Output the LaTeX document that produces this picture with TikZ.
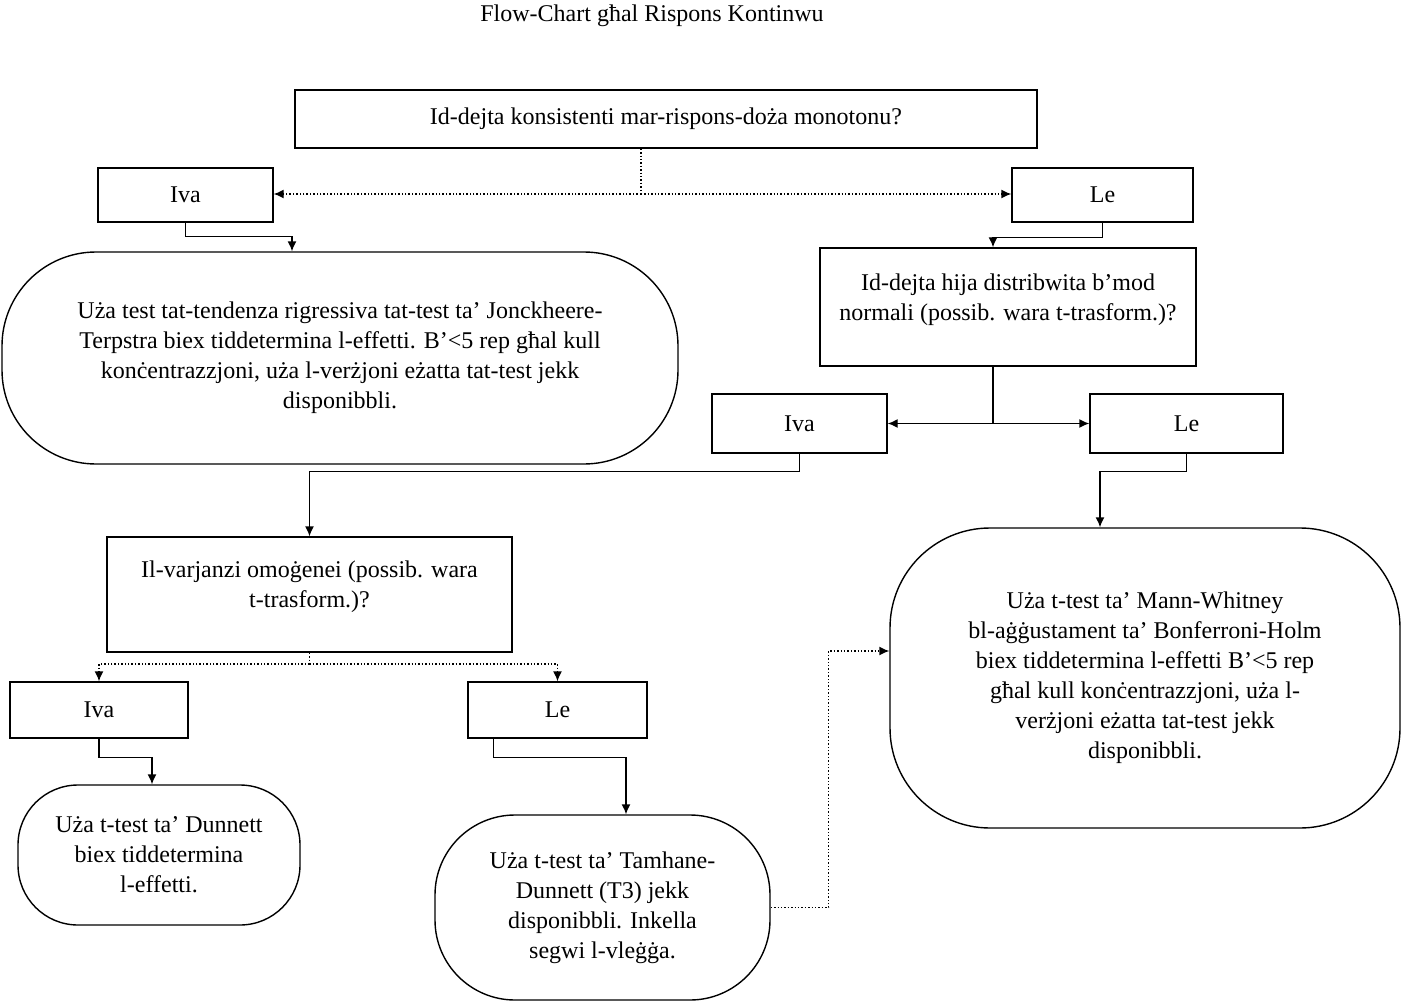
\documentclass[tikz,border=0pt]{standalone}
\usepackage{fontspec}
\setmainfont{Liberation Serif}
\usepackage{tikz}
\usetikzlibrary{arrows.meta,positioning}
\tikzset{
  box/.style={draw=black, line width=.7pt, align=center, inner sep=2pt,
              font=\fontsize{12}{15}\selectfont},
  ans/.style={box, minimum height=27pt},
  quest/.style={box},
  oval/.style={box, rounded corners=#1},
  oval/.default=45pt,
  arrow/.style={-{Latex[length=5pt,width=4.5pt]}, line width=.7pt, draw=black},
  dotarr/.style={arrow, densely dotted},
  dotline/.style={line width=.7pt, densely dotted},
  plain/.style={line width=.7pt}
}

\begin{document}
\begin{tikzpicture}[x=0.5pt, y=-0.5pt]
  \useasboundingbox (0,0) rectangle (1402,1006);

  \node[font=\fontsize{12}{15}\selectfont] (title) at (652,16) {Flow-Chart għal Rispons Kontinwu};

  % first question and its two answers
  \node[quest, minimum width=371pt, minimum height=29pt] (q1) at (666,119)
       {Id-dejta konsistenti mar-rispons-doża monotonu?};
  \node[ans, minimum width=87.5pt] (iva1) at (185.5,195) {Iva};
  \node[ans, minimum width=90.5pt] (le1) at (1102.5,195) {Le};

  \node[oval=47pt, minimum width=338pt, minimum height=106pt] (jonck) at (340,358)
       {Uża test tat-tendenza rigressiva tat-test ta’ Jonckheere-\\
        Terpstra biex tiddetermina l-effetti. B’<5 rep għal kull\\
        konċentrazzjoni, uża l-verżjoni eżatta tat-test jekk\\
        disponibbli.};

  % normality
  \node[quest, text depth=10pt, minimum width=188pt, minimum height=59pt] (q2) at (1008,307)
       {Id-dejta hija distribwita b’mod\\normali (possib. wara t-trasform.)?};
  \node[ans, minimum width=87.5pt, minimum height=29.5pt] (iva2) at (799.5,423.5) {Iva};
  \node[ans, minimum width=96.5pt, minimum height=29.5pt] (le2) at (1186.5,423.5) {Le};

  % variances
  \node[quest, text depth=10pt, minimum width=202.5pt, minimum height=57.5pt] (q3) at (309.5,594.5)
       {Il-varjanzi omoġenei (possib. wara\\t-trasform.)?};
  \node[ans, minimum width=89pt, minimum height=28pt] (iva3) at (99,710) {Iva};
  \node[ans, minimum width=89.5pt, minimum height=28pt] (le3) at (557.5,710) {Le};

  \node[oval=30pt, minimum width=141pt, minimum height=70pt] (dunn) at (159,855)
       {Uża t-test ta’ Dunnett\\biex tiddetermina\\l-effetti.};
  \node[oval=40pt, minimum width=167.5pt, minimum height=92.5pt] (tamh) at (602.5,907.5)
       {Uża t-test ta’ Tamhane-\\Dunnett (T3) jekk\\disponibbli. Inkella\\segwi l-vleġġa.};
  \node[oval=50pt, minimum width=255pt, minimum height=150pt] (mann) at (1145,678)
       {Uża t-test ta’ Mann-Whitney\\bl-aġġustament ta’ Bonferroni-Holm\\
        biex tiddetermina l-effetti B’<5 rep\\għal kull konċentrazzjoni, uża l-\\
        verżjoni eżatta tat-test jekk\\disponibbli.};

  % connectors
  \coordinate (f1) at (641,194);
  \coordinate (f2) at (993,423.5);
  \coordinate (f3) at (309.5,664);

  \draw[dotline] (q1.south -| f1) -- (f1);
  \draw[dotarr] (f1) -- (f1 -| iva1.east);
  \draw[dotarr] (f1) -- (f1 -| le1.west);
  \draw[arrow] (iva1.south) -- ++(0,14) -| ([xshift=-24pt]jonck.north);
  \draw[arrow] (le1.south) -- ++(0,15) -| ([xshift=-7.5pt]q2.north);

  \draw[plain] (q2.south -| f2) -- (f2);
  \draw[arrow] (f2) -- (iva2.east);
  \draw[arrow] (f2) -- (le2.west);
  \draw[arrow] (iva2.south) -- ++(0,18) -| (q3.north);
  \draw[arrow] (le2.south) -- ++(0,18) -| ([xshift=-22.5pt]mann.north);

  \draw[dotline] (q3.south) -- (f3);
  \draw[dotarr] (f3) -| (iva3.north);
  \draw[dotarr] (f3) -| (le3.north);
  \draw[arrow] (iva3.south) -- ++(0,19) -| ([xshift=-3.5pt]dunn.north);
  \draw[arrow] ([xshift=-32pt]le3.south) -- ++(0,19) -| ([xshift=11.75pt]tamh.north);

  \draw[dotarr] (tamh.east) -- ++(58,0) |- ([yshift=13.5pt]mann.west);
\end{tikzpicture}
\end{document}
